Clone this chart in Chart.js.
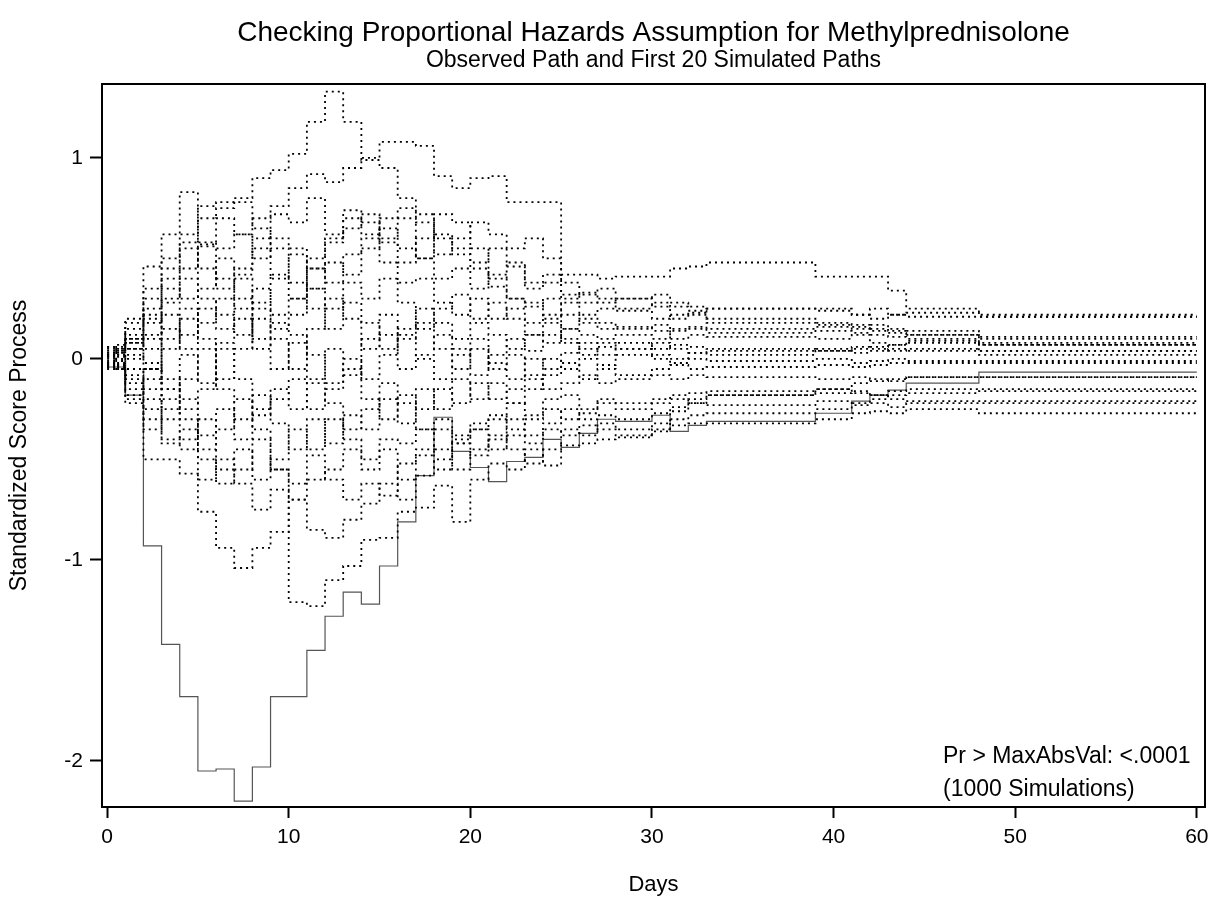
<!DOCTYPE html>
<html>
<head>
<meta charset="utf-8">
<script src="https://cdn.jsdelivr.net/npm/chart.js@4.4.0/dist/chart.umd.min.js"></script>
<style>
  html, body { margin: 0; padding: 0; background: #fff; }
  #wrap { width: 1217px; height: 898px; }
</style>
</head>
<body>
<div id="wrap"><canvas id="grafico" width="1217" height="898"></canvas></div>
<script>
// Tiempos de evento (días)
const tiempos = [0, 0.5, 1, 2, 3, 4, 5, 6, 7, 8, 9, 10, 11, 12, 13, 14, 15, 16, 17, 18, 19, 20,
  21, 22, 23, 24, 25, 26, 27, 28, 30, 31, 32, 33, 39, 41, 42, 43, 44, 48, 60];

// Trayectoria observada
const observado = [-0.04, -0.04, -0.18, -0.93, -1.42, -1.68, -2.05, -2.04, -2.20, -2.03, -1.68, -1.68,
  -1.45, -1.28, -1.16, -1.22, -1.03, -0.81, -0.58, -0.29, -0.46, -0.54, -0.61, -0.51, -0.49, -0.40,
  -0.44, -0.37, -0.30, -0.31, -0.28, -0.36, -0.33, -0.31, -0.27, -0.21, -0.18, -0.155, -0.12, -0.065, -0.065];

// Primeras 20 trayectorias simuladas
const sim01 = [0.03, 0.05, 0.10, 0.25, 0.45, 0.58, 0.76, 0.78, 0.80, 0.90, 0.94, 1.02, 1.18, 1.33, 1.18, 0.99,
  0.95, 0.80, 0.72, 0.60, 0.52, 0.45, 0.36, 0.30, 0.26, 0.30, 0.22, 0.18, 0.15, 0.16, 0.14, 0.10, 0.12, 0.11,
  0.10, 0.12, 0.08, 0.07, 0.09, 0.07, 0.07];
const sim02 = [0.02, 0.04, 0.08, 0.18, 0.30, 0.45, 0.58, 0.55, 0.62, 0.70, 0.76, 0.85, 0.92, 0.88, 0.95, 1.00,
  1.08, 1.08, 1.06, 0.91, 0.85, 0.90, 0.91, 0.78, 0.78, 0.78, 0.42, 0.42, 0.40, 0.41, 0.41, 0.45, 0.46, 0.48,
  0.41, 0.41, 0.41, 0.34, 0.25, 0.22, 0.22];
const sim03 = [0.06, 0.07, 0.20, 0.46, 0.62, 0.83, 0.57, 0.70, 0.62, 0.50, 0.60, 0.55, 0.45, 0.60, 0.70, 0.62,
  0.65, 0.55, 0.50, 0.40, 0.45, 0.35, 0.42, 0.30, 0.28, 0.20, 0.28, 0.22, 0.25, 0.24, 0.20, 0.22, 0.23, 0.25,
  0.25, 0.22, 0.25, 0.22, 0.21, 0.21, 0.21];
const sim04 = [-0.03, -0.05, -0.20, -0.50, -0.50, -0.57, -0.76, -0.94, -1.04, -0.94, -0.86, -0.70, -0.60, -0.55,
  -0.45, -0.50, -0.40, -0.42, -0.35, -0.30, -0.38, -0.32, -0.28, -0.35, -0.30, -0.25, -0.30, -0.27, -0.22,
  -0.25, -0.22, -0.20, -0.22, -0.23, -0.21, -0.23, -0.22, -0.24, -0.22, -0.22, -0.22];
const sim05 = [-0.02, 0.00, -0.10, -0.20, -0.40, -0.45, -0.60, -0.50, -0.62, -0.75, -0.65, -1.21, -1.23, -1.10,
  -1.03, -0.90, -0.89, -0.76, -0.74, -0.63, -0.81, -0.60, -0.52, -0.55, -0.45, -0.53, -0.43, -0.42, -0.40,
  -0.39, -0.36, -0.33, -0.32, -0.32, -0.30, -0.27, -0.26, -0.27, -0.25, -0.27, -0.27];
const sim06 = [0.04, 0.06, 0.15, 0.30, 0.40, 0.55, 0.45, 0.35, 0.45, 0.60, 0.72, 0.68, 0.80, 0.62, 0.74, 0.68,
  0.60, 0.70, 0.50, 0.62, 0.55, 0.48, 0.55, 0.46, 0.35, 0.38, 0.32, 0.28, 0.30, 0.25, 0.28, 0.26, 0.24, 0.18,
  0.17, 0.16, 0.14, 0.13, 0.12, 0.11, 0.11];
const sim07 = [0.01, 0.02, -0.05, -0.15, 0.05, 0.20, 0.10, -0.10, 0.05, 0.20, 0.10, -0.05, 0.15, 0.30, 0.20, 0.05,
  0.12, -0.05, 0.02, 0.12, 0.05, -0.08, 0.02, 0.10, 0.04, 0.12, 0.08, 0.02, 0.06, 0.08, 0.05, 0.07, 0.06, 0.05,
  0.04, 0.06, 0.05, 0.04, 0.05, 0.04, 0.04];
const sim08 = [-0.04, -0.03, -0.15, -0.35, -0.25, -0.40, -0.30, -0.55, -0.45, -0.60, -0.50, -0.35, -0.45, -0.30,
  -0.40, -0.55, -0.45, -0.60, -0.48, -0.35, -0.42, -0.48, -0.40, -0.30, -0.38, -0.32, -0.25, -0.30, -0.28,
  -0.30, -0.27, -0.24, -0.20, -0.18, -0.17, -0.16, -0.18, -0.16, -0.15, -0.15, -0.15];
const sim09 = [0.02, 0.03, 0.12, 0.20, 0.35, 0.30, 0.56, 0.40, 0.25, 0.35, 0.22, 0.30, 0.45, 0.38, 0.52, 0.60,
  0.48, 0.38, 0.40, 0.28, 0.22, 0.30, 0.20, 0.25, 0.18, 0.22, 0.15, 0.20, 0.18, 0.15, 0.17, 0.14, 0.15, 0.13,
  0.14, 0.13, 0.12, 0.11, 0.10, 0.08, 0.08];
const sim10 = [-0.01, -0.02, 0.05, 0.10, -0.10, -0.25, -0.15, 0.05, -0.10, -0.25, -0.20, -0.10, -0.25, -0.15,
  -0.05, -0.20, -0.30, -0.18, -0.25, -0.15, -0.22, -0.12, -0.20, -0.15, -0.10, -0.15, -0.12, -0.08, -0.12,
  -0.10, -0.08, -0.10, -0.08, -0.09, -0.10, -0.09, -0.10, -0.11, -0.09, -0.09, -0.09];
const sim11 = [0.05, 0.04, 0.18, 0.35, 0.50, 0.62, 0.70, 0.75, 0.78, 0.65, 0.55, 0.38, 0.25, 0.15, 0.28, 0.18,
  0.05, 0.15, 0.25, 0.18, 0.10, 0.18, 0.12, 0.05, 0.12, 0.08, 0.15, 0.12, 0.10, 0.12, 0.10, 0.15, 0.16, 0.15,
  0.16, 0.15, 0.17, 0.15, 0.14, 0.02, 0.02];
const sim12 = [-0.05, -0.04, -0.22, -0.30, -0.42, -0.35, -0.50, -0.62, -0.55, -0.40, -0.55, -0.62, -0.48, -0.60,
  -0.70, -0.62, -0.68, -0.52, -0.45, -0.55, -0.40, -0.35, -0.45, -0.38, -0.42, -0.35, -0.38, -0.33, -0.35,
  -0.38, -0.35, -0.30, -0.28, -0.27, -0.25, -0.22, -0.20, -0.18, -0.17, -0.16, -0.16];
const sim13 = [0.00, 0.01, 0.02, -0.05, 0.15, 0.05, 0.25, 0.15, 0.30, 0.10, -0.05, 0.08, -0.10, 0.05, -0.08, 0.10,
  0.22, 0.10, 0.18, 0.05, -0.05, 0.05, -0.05, 0.02, -0.08, 0.00, -0.05, 0.00, -0.03, 0.02, 0.00, -0.02, 0.00,
  -0.01, 0.00, -0.02, -0.01, 0.00, -0.01, -0.01, -0.01];
const sim14 = [0.03, 0.02, 0.08, 0.22, 0.10, 0.25, 0.18, 0.30, 0.40, 0.28, 0.42, 0.30, 0.50, 0.58, 0.65, 0.72,
  0.58, 0.48, 0.60, 0.72, 0.68, 0.55, 0.40, 0.48, 0.38, 0.42, 0.30, 0.33, 0.28, 0.30, 0.32, 0.28, 0.26, 0.25,
  0.24, 0.22, 0.20, 0.22, 0.23, 0.21, 0.21];
const sim15 = [-0.02, -0.03, -0.08, -0.25, -0.15, -0.30, -0.45, -0.35, -0.20, -0.35, -0.55, -0.70, -0.85, -0.89,
  -0.80, -0.72, -0.62, -0.70, -0.58, -0.50, -0.42, -0.35, -0.30, -0.22, -0.28, -0.20, -0.18, -0.25, -0.20,
  -0.22, -0.20, -0.18, -0.17, -0.16, -0.15, -0.17, -0.18, -0.20, -0.21, -0.21, -0.21];
const sim16 = [0.06, 0.05, 0.10, 0.05, 0.22, 0.12, 0.35, 0.50, 0.42, 0.55, 0.40, 0.52, 0.35, 0.25, 0.38, 0.30,
  0.40, 0.28, 0.15, 0.25, 0.32, 0.20, 0.28, 0.20, 0.12, 0.18, 0.10, 0.05, 0.08, 0.05, 0.08, 0.05, 0.03, 0.04,
  0.05, 0.03, 0.04, 0.05, 0.04, 0.04, 0.04];
const sim17 = [-0.03, -0.01, -0.12, -0.05, -0.20, -0.10, 0.05, -0.15, -0.30, -0.18, -0.32, -0.45, -0.30, -0.42,
  -0.28, -0.35, -0.20, -0.32, -0.15, -0.25, -0.10, -0.20, -0.12, -0.22, -0.15, -0.08, -0.02, -0.10, -0.05,
  -0.08, -0.05, -0.03, -0.05, -0.04, -0.03, -0.04, -0.03, -0.02, -0.02, -0.02, -0.02];
const sim18 = [0.01, 0.03, 0.00, 0.12, 0.28, 0.40, 0.30, 0.22, 0.12, 0.25, 0.15, 0.22, 0.35, 0.48, 0.42, 0.55,
  0.70, 0.75, 0.68, 0.52, 0.60, 0.68, 0.62, 0.55, 0.60, 0.50, 0.38, 0.32, 0.35, 0.30, 0.26, 0.20, 0.22, 0.20,
  0.18, 0.17, 0.15, 0.14, 0.12, 0.10, 0.10];
const sim19 = [-0.04, -0.05, -0.18, -0.10, -0.30, -0.20, -0.38, -0.25, -0.40, -0.28, -0.15, -0.25, -0.12, -0.22,
  -0.35, -0.25, -0.12, -0.22, -0.35, -0.45, -0.55, -0.45, -0.38, -0.45, -0.52, -0.45, -0.35, -0.38, -0.32,
  -0.35, -0.32, -0.26, -0.22, -0.18, -0.15, -0.12, -0.11, -0.10, -0.09, -0.09, -0.09];
const sim20 = [0.02, 0.00, 0.05, -0.02, -0.15, 0.02, -0.12, 0.08, 0.20, 0.05, 0.18, 0.12, 0.02, -0.12, 0.00, -0.10,
  0.02, 0.12, 0.00, -0.10, 0.02, 0.10, -0.02, -0.10, 0.00, -0.05, 0.03, 0.08, 0.02, 0.05, 0.02, 0.00, 0.03, 0.02,
  0.04, 0.05, 0.06, 0.07, 0.08, 0.07, 0.07];

const simuladas = [sim01, sim02, sim03, sim04, sim05, sim06, sim07, sim08, sim09, sim10,
  sim11, sim12, sim13, sim14, sim15, sim16, sim17, sim18, sim19, sim20];

const ticksX = [0, 10, 20, 30, 40, 50, 60];
const ticksY = [-2, -1, 0, 1];

const FUENTE = "'Liberation Sans', Arial, sans-serif";

function puntos(valores) {
  return tiempos.map((t, i) => ({ x: t, y: valores[i] }));
}

const datasets = simuladas.map((s, i) => ({
  label: 'Simulada ' + (i + 1),
  data: puntos(s),
  borderColor: '#000',
  borderWidth: 1.8,
  borderDash: [2, 4],
  stepped: true,
  pointRadius: 0,
  fill: false
}));

datasets.push({
  label: 'Observada',
  data: puntos(observado),
  borderColor: '#555',
  borderWidth: 1.2,
  stepped: true,
  pointRadius: 0,
  fill: false
});

// Marco, títulos y nota del valor p
const marco = {
  id: 'marco',
  afterDraw(chart) {
    const { ctx, chartArea: a } = chart;
    ctx.save();
    ctx.strokeStyle = '#000';
    ctx.lineWidth = 2;
    ctx.strokeRect(a.left, a.top, a.right - a.left, a.bottom - a.top);

    ctx.fillStyle = '#000';
    ctx.textAlign = 'center';
    ctx.textBaseline = 'alphabetic';
    const cx = (a.left + a.right) / 2;
    ctx.font = '28px ' + FUENTE;
    ctx.fillText('Checking Proportional Hazards Assumption for Methylprednisolone', cx, 41);
    ctx.font = '23px ' + FUENTE;
    ctx.fillText('Observed Path and First 20 Simulated Paths', cx, 67);

    ctx.textAlign = 'left';
    ctx.font = '23px ' + FUENTE;
    ctx.fillText('Pr > MaxAbsVal: <.0001', 943, 763);
    ctx.fillText('(1000 Simulations)', 943, 796);
    ctx.restore();
  }
};

new Chart(document.getElementById('grafico'), {
  type: 'line',
  data: { datasets },
  options: {
    responsive: false,
    animation: false,
    layout: { padding: { top: 84, right: 12, left: 0, bottom: 0 } },
    plugins: {
      legend: { display: false },
      tooltip: { enabled: false }
    },
    scales: {
      x: {
        type: 'linear',
        min: -0.28,
        max: 60.45,
        afterFit: s => { s.height = 91; },
        afterBuildTicks: s => { s.ticks = ticksX.map(v => ({ value: v })); },
        border: { display: true, color: '#000', width: 2 },
        grid: { display: true, drawOnChartArea: false, tickLength: 11, tickWidth: 2, tickColor: '#000' },
        ticks: { color: '#000', font: { family: FUENTE, size: 21 }, padding: 7, maxRotation: 0 },
        title: { display: true, text: 'Days', color: '#000', font: { family: FUENTE, size: 22 }, padding: { top: 0, bottom: 0 } }
      },
      y: {
        type: 'linear',
        min: -2.229,
        max: 1.368,
        afterFit: s => { s.width = 102; },
        afterBuildTicks: s => { s.ticks = ticksY.map(v => ({ value: v })); },
        border: { display: true, color: '#000', width: 2 },
        grid: { display: true, drawOnChartArea: false, tickLength: 12, tickWidth: 2, tickColor: '#000' },
        ticks: { color: '#000', font: { family: FUENTE, size: 21 }, padding: 7 },
        title: { display: true, text: 'Standardized Score Process', color: '#000', font: { family: FUENTE, size: 23 }, padding: { top: 6, bottom: 0 } }
      }
    }
  },
  plugins: [marco]
});
</script>
</body>
</html>
